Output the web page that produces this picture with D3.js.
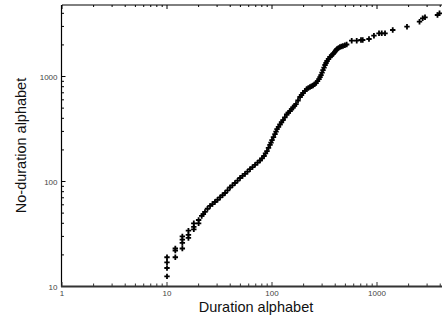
<!doctype html>
<html>
<head>
<script src="https://d3js.org/d3.v7.min.js"></script>
<style>
body { margin: 0; background: #fff; }
svg { display: block; font-family: "Liberation Sans", Arial, sans-serif; }
</style>
</head>
<body>
<svg></svg>
<script>

// alphabet sizes, one point per piece
var durationAlphabet = [
	10, 10, 10, 10,
	12, 12, 12,
	14, 14, 14, 14,
	16, 16, 16,
	18, 18, 18,
	20, 20,
	21.4, 22.2, 23, 24.3, 25.7, 27.1, 28.6, 30.3, 32, 33.8,
	35.7, 37.7, 39.8, 42, 44.4, 47, 49.6, 52.4, 55.3, 58.4,
	61.7, 65.2, 68.9, 72.8, 76.9, 80.3, 83.9, 86.7, 89.6, 92.6,
	95.7, 97.8, 100, 103.3, 106.8, 109.2, 111.6, 115.3, 119.2, 123.2,
	127.4, 132.6, 138, 143.1, 148.4, 153.4, 158.5, 163.8, 169.3, 176.9,
	184.9, 191, 197.4, 205.5, 213.9, 221.8, 230, 237.7, 245.6, 253.9,
	262.4, 271.3, 280.5, 286.7, 293, 299.5, 306, 313, 320, 327,
	334, 345.3, 357, 369, 381, 389.5, 398, 407, 416, 430,
	444, 459, 474, 494, 514,
	574, 641, 704, 731, 839, 935, 1045, 1109, 1192, 1412,
	1930, 2540, 2723, 2865, 3767, 3938
];
var noDurationAlphabet = [
	12.5, 15, 17, 19,
	19, 22, 23,
	23, 26, 28, 30,
	29, 31, 34,
	35, 37, 40,
	40, 43,
	47, 49, 51.3, 55, 58.5, 61, 63.8, 67, 70.5, 74,
	77.7, 82.5, 87.7, 92, 96.8, 102, 108, 113, 118, 124,
	131, 137, 144, 151, 158.5, 166, 175, 185, 195, 209,
	223, 235, 248, 265, 283, 299, 316, 332, 349, 367,
	385, 409, 435, 452, 469, 488, 507, 527, 547, 591,
	638, 667, 697, 728, 760, 777, 794, 807, 821, 844,
	867, 905, 946, 989, 1033, 1091, 1153, 1218, 1288, 1345,
	1406, 1469, 1535, 1586, 1638, 1683, 1730, 1779, 1828, 1869,
	1910, 1930, 1950, 1985, 2019,
	2193, 2193, 2228, 2228, 2277, 2448, 2579, 2579, 2579, 2773,
	2981, 3327, 3584, 3664, 3856, 4003
];

var xTickValues = [1, 10, 100, 1000];
var yTickValues = [10, 100, 1000];
var xTitle = "Duration alphabet";
var yTitle = "No-duration alphabet";

var W = 442, H = 318;
var svg = d3.select("svg").attr("width", W).attr("height", H);

var x = d3.scaleLog().domain([1, 5000]).range([62, 450.4]);
var y = d3.scaleLog().domain([10, 4800]).range([286.5, 5]);

var isMajor = d => Math.abs(Math.log10(d) - Math.round(Math.log10(d))) < 1e-9;

// top border with inward ticks
svg.append("line")
	.attr("x1", 62).attr("x2", W).attr("y1", 5).attr("y2", 5)
	.attr("stroke", "#000").attr("stroke-width", 1);
svg.append("g").selectAll("line").data(x.ticks())
	.join("line")
	.attr("x1", d => x(d)).attr("x2", d => x(d))
	.attr("y1", 5).attr("y2", d => isMajor(d) ? 9 : 7)
	.attr("stroke", "#000").attr("stroke-width", 1);

// left axis
var gy = svg.append("g").attr("transform", "translate(61.5,0)");
gy.append("line").attr("y1", 5).attr("y2", 287).attr("stroke", "#000").attr("stroke-width", 1.2);
gy.selectAll(".tk").data(y.ticks())
	.join("line")
	.attr("x1", 0).attr("x2", d => isMajor(d) ? 4 : 2.5)
	.attr("y1", d => y(d)).attr("y2", d => y(d))
	.attr("stroke", "#000").attr("stroke-width", 1);
gy.selectAll("text").data(yTickValues)
	.join("text")
	.attr("x", -4).attr("y", d => y(d) + 3)
	.attr("text-anchor", "end")
	.attr("font-size", 8).attr("fill", "#444")
	.text(d => d);

// bottom axis
var gx = svg.append("g");
gx.append("line").attr("x1", 61).attr("x2", W).attr("y1", 286.5).attr("y2", 286.5)
	.attr("stroke", "#333").attr("stroke-width", 2);
gx.selectAll(".tk").data(x.ticks())
	.join("line")
	.attr("x1", d => x(d)).attr("x2", d => x(d))
	.attr("y1", 286).attr("y2", d => isMajor(d) ? 282 : 283.5)
	.attr("stroke", "#333").attr("stroke-width", 1);
gx.selectAll("text").data(xTickValues)
	.join("text")
	.attr("x", d => x(d)).attr("y", 296)
	.attr("text-anchor", "middle")
	.attr("font-size", 8).attr("fill", "#444")
	.text(d => d);

// titles
svg.append("text")
	.attr("x", 256).attr("y", 312)
	.attr("text-anchor", "middle")
	.attr("font-size", 14.5).attr("fill", "#111")
	.text(xTitle);
svg.append("text")
	.attr("transform", "translate(26,145.5) rotate(-90)")
	.attr("text-anchor", "middle")
	.attr("font-size", 14.5).attr("fill", "#111")
	.text(yTitle);

// points as "+" marks
var pts = durationAlphabet.map((d, i) => [d, noDurationAlphabet[i]]);
svg.append("g").selectAll("path").data(pts)
	.join("path")
	.attr("transform", p => "translate(" + x(p[0]) + "," + y(p[1]) + ")")
	.attr("d", "M-2.7,0H2.7M0,-2.7V2.7")
	.attr("stroke", "#000").attr("stroke-width", 1.8)
	.attr("fill", "none");

</script>
</body>
</html>
